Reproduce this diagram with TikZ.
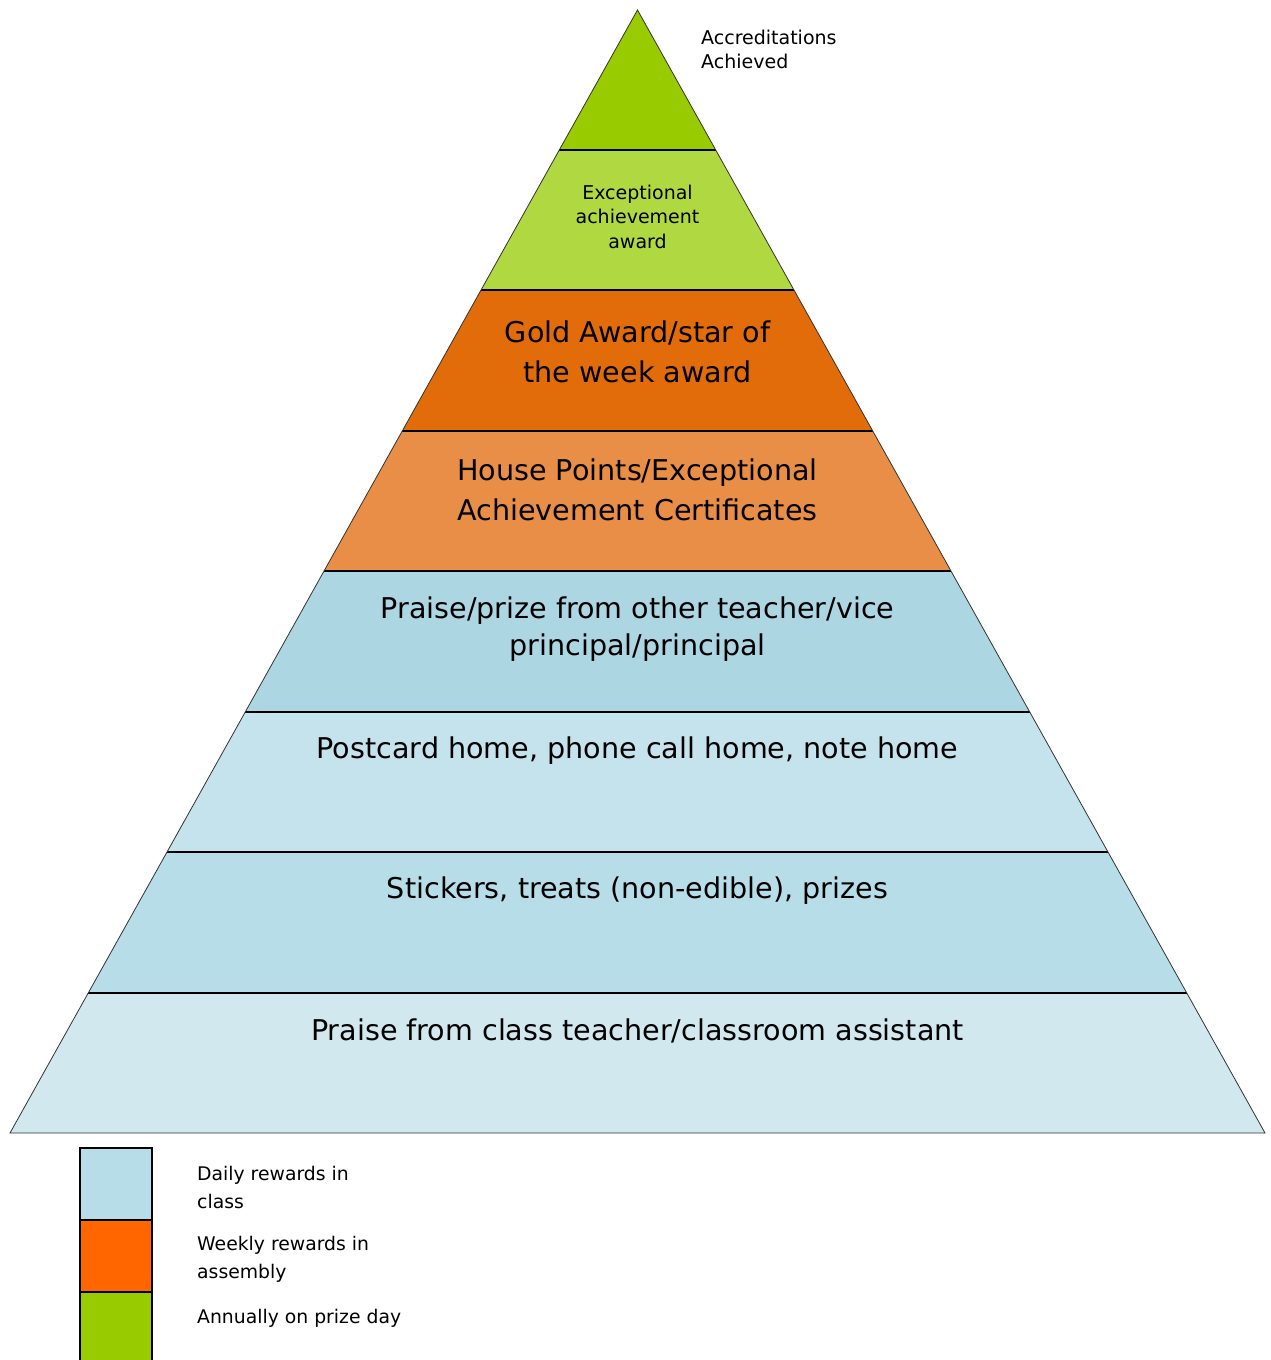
\documentclass[tikz,border=0pt]{standalone}
\usepackage{fontspec}
\setmainfont{DejaVu Sans}
\usetikzlibrary{calc}
\definecolor{cTop}{HTML}{99CC00}
\definecolor{cExc}{HTML}{B0D840}
\definecolor{cGold}{HTML}{E36C0A}
\definecolor{cHouse}{HTML}{E98E46}
\definecolor{cPP}{HTML}{ADD6E3}
\definecolor{cPost}{HTML}{C5E3EC}
\definecolor{cStick}{HTML}{B7DEE8}
\definecolor{cClass}{HTML}{D0E8EE}
\definecolor{lBlue}{HTML}{B7DDE8}
\definecolor{lOrange}{HTML}{FF6600}
\definecolor{lGreen}{HTML}{99CC00}
\tikzset{
  bigtxt/.style={align=center, inner sep=0pt, font=\fontsize{28.6}{40}\selectfont},
  smalltxt/.style={align=center, inner sep=0pt, font=\fontsize{19}{24.5}\selectfont},
  legtxt/.style={align=left, inner sep=0pt, anchor=west, font=\fontsize{18.8}{28}\selectfont},
  divider/.style={line width=1.4pt, black},
  edge/.style={line width=0.8pt, black!80},
  legbox/.style={draw=black, line width=1.4pt}
}
\begin{document}
\begin{tikzpicture}[x=1pt,y=-1pt]
\useasboundingbox (0,0) rectangle (1270,1360);
\coordinate (A) at (637.5,10);
\coordinate (L) at (10,1133);
\coordinate (R) at (1265,1133);
\foreach \i/\t in {1/0.12467,2/0.24933,3/0.37489,4/0.49955,5/0.62511,6/0.74978,7/0.87533}{
  \coordinate (l\i) at ($(A)!\t!(L)$);
  \coordinate (r\i) at ($(A)!\t!(R)$);
}
\fill[cTop] (A) -- (r1) -- (l1) -- cycle;
\fill[cExc] (l1) -- (r1) -- (r2) -- (l2) -- cycle;
\fill[cGold] (l2) -- (r2) -- (r3) -- (l3) -- cycle;
\fill[cHouse] (l3) -- (r3) -- (r4) -- (l4) -- cycle;
\fill[cPP] (l4) -- (r4) -- (r5) -- (l5) -- cycle;
\fill[cPost] (l5) -- (r5) -- (r6) -- (l6) -- cycle;
\fill[cStick] (l6) -- (r6) -- (r7) -- (l7) -- cycle;
\fill[cClass] (l7) -- (r7) -- (R) -- (L) -- cycle;
\foreach \i in {1,...,7}{\draw[divider] (l\i) -- (r\i);}
\draw[edge] (A) -- (L) -- (R) -- cycle;

\node[smalltxt, align=left, anchor=west] (acc) at (701,49.5) {Accreditations\\Achieved};
\node[smalltxt] (exc) at (637.5,216.5) {Exceptional\\achievement\\award};
\node[bigtxt] (gold) at (637.5,352) {Gold Award/star of\\the week award};
\node[bigtxt] (house) at (637.5,490) {House Points/Exceptional\\Achievement Certificates};
\node[bigtxt, font=\fontsize{28.6}{37}\selectfont] (pp) at (637.5,629) {Praise/prize from other teacher/vice\\principal/principal};
\node[bigtxt] (post) at (637.5,751) {Postcard home, phone call home, note home};
\node[bigtxt] (stick) at (637.5,891) {Stickers, treats (non-edible), prizes};
\node[bigtxt] (class) at (637.5,1031) {Praise from class teacher/classroom assistant};

\filldraw[legbox, fill=lBlue] (80,1148) rectangle (152,1220);
\filldraw[legbox, fill=lOrange] (80,1220) rectangle (152,1292);
\filldraw[legbox, fill=lGreen] (80,1292) rectangle (152,1364);
\node[legtxt] (ld) at (197,1187) {Daily rewards in\\class};
\node[legtxt] (lw) at (197,1259.5) {Weekly rewards in\\assembly};
\node[legtxt] (la) at (197,1318.5) {Annually on prize day};
\end{tikzpicture}
\end{document}
